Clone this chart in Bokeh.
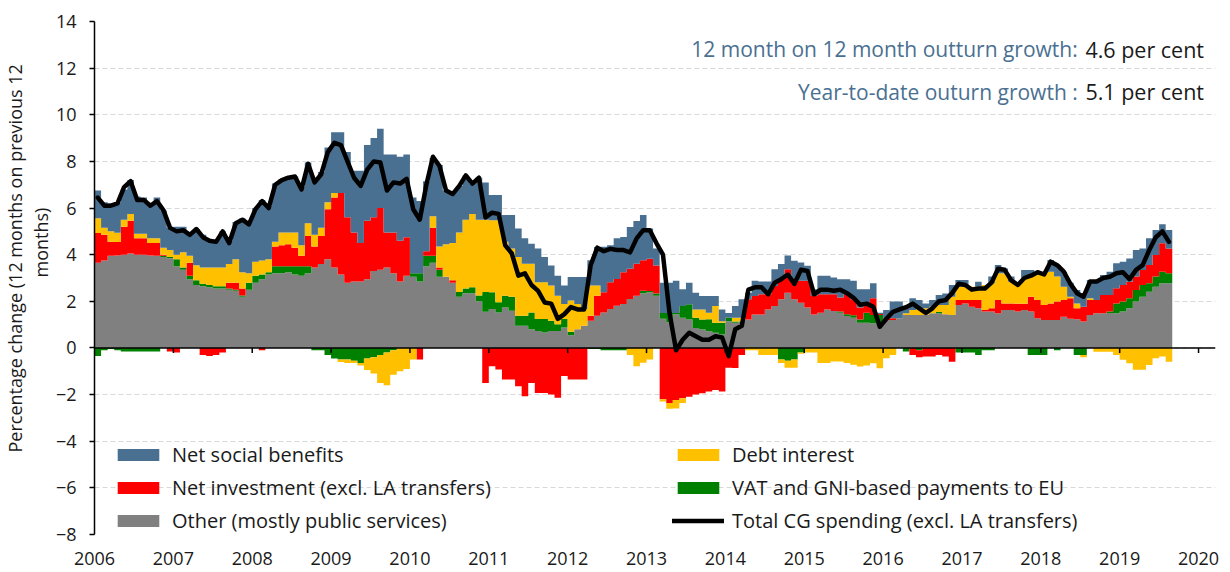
import numpy as np
from bokeh.plotting import figure
from bokeh.models import (Range1d, FixedTicker, Legend, LegendItem, Label, Span, Title)
from bokeh.embed import file_html
from bokeh.resources import INLINE

# ---------------- data (monthly, Jan 2006 - Aug 2019) ----------------
start_year = 2006
tick_years = list(range(2006, 2021))

other = [
    3.65, 3.75, 3.95, 3.97, 4.0, 4.05, 4.0, 4.0, 3.97, 3.95, 3.9, 3.85,
    3.5, 3.35, 2.95, 2.7, 2.65, 2.6, 2.55, 2.55, 2.5, 2.45, 2.2, 2.5,
    2.8, 2.95, 3.15, 3.2, 3.2, 3.25, 3.15, 3.1, 3.2, 3.45, 3.6, 3.8,
    3.45, 3.15, 2.8, 2.85, 2.85, 2.95, 3.3, 3.35, 3.45, 3.2, 2.85, 3.1,
    3.05, 2.85, 3.5, 3.65, 3.05, 3.05, 2.8, 2.2, 2.35, 2.35, 2.0, 1.55,
    1.67, 1.52, 1.74, 1.6, 0.95, 0.95, 0.8, 0.73, 0.66, 0.73, 0.73, 0.88,
    0.55, 0.8, 0.95, 1.17, 1.38, 1.52, 1.67, 1.81, 1.88, 2.1, 2.24, 2.35,
    2.39, 2.24, 1.25, 1.1, 1.45, 1.3, 1.22, 0.86, 0.79, 0.72, 0.65, 0.58,
    1.15, 1.08, 1.15, 1.22, 1.44, 1.44, 1.65, 1.8, 2.09, 2.37, 2.09, 1.94,
    1.73, 1.44, 1.51, 1.65, 1.58, 1.51, 1.37, 1.3, 1.08, 1.08, 1.06, 1.06,
    1.2, 1.2, 1.27, 1.41, 1.41, 1.41, 1.41, 1.49, 1.49, 1.45, 1.41, 1.84,
    1.91, 1.77, 1.7, 1.56, 1.56, 1.49, 1.63, 1.63, 1.56, 1.63, 1.56, 1.27,
    1.2, 1.2, 1.2, 1.34, 1.25, 1.23, 1.13, 1.41, 1.49, 1.49, 1.5, 1.49,
    1.56, 1.7, 1.99, 2.2, 2.41, 2.63, 2.77, 2.77]

vat = [
    -0.35, -0.1, -0.05, -0.1, -0.15, -0.15, -0.15, -0.15, -0.15, -0.15, 0.05, 0.05,
    0.3, 0.1, 0.15, 0.2, 0.1, 0.1, 0.1, 0.1, 0.05, 0.05, 0.05, 0.3,
    0.3, 0.2, 0.1, 0.3, 0.3, 0.25, 0.35, 0.4, 0.3, -0.1, -0.1, -0.3,
    -0.45, -0.5, -0.5, -0.55, -0.65, -0.45, -0.4, -0.3, -0.2, -0.1, 0.0, 0.0,
    0.15, 0.35, 0.45, 0.3, 0.3, 0.0, 0.0, 0.2, 0.2, 0.25, 0.25, 0.85,
    0.72, 0.44, 0.5, 0.6, 0.43, 0.43, 0.72, 0.51, 0.58, 0.44, 0.29, 0.36,
    0.15, 0.0, 0.0, -0.05, -0.05, -0.1, -0.1, -0.1, -0.1, 0.0, 0.0, 0.1,
    0.05, 0.1, 0.25, 0.4, 0.05, 0.5, 0.65, 0.44, 0.43, 0.51, 0.43, 0.5,
    0.15, 0.05, 0.0, 0.0, 0.0, 0.0, 0.0, 0.0, -0.5, -0.55, -0.5, -0.2,
    0.0, 0.0, 0.0, 0.0, 0.0, 0.05, 0.08, 0.1, 0.14, 0.43, 0.35, 0.35,
    0.0, 0.0, 0.0, -0.15, 0.0, -0.1, 0.0, 0.0, 0.05, 0.0, 0.0, -0.2,
    -0.2, -0.2, -0.3, -0.1, -0.1, 0.0, 0.0, 0.0, 0.0, 0.0, -0.3, -0.3,
    -0.3, 0.0, -0.1, 0.0, 0.0, -0.3, -0.3, 0.0, 0.0, 0.0, 0.06, 0.42,
    0.43, 0.43, 0.5, 0.5, 0.36, 0.43, 0.5, 0.43]

invest = [
    1.28, 1.1, 0.6, 0.57, 1.2, 1.4, 0.7, 0.7, 0.53, 0.55, 0.05, -0.15,
    -0.2, 0.0, 0.55, 0.0, -0.3, -0.35, -0.3, -0.2, 0.25, 0.3, 0.3, 0.0,
    0.0, -0.1, 0.0, 0.85, 0.9, 0.95, 0.8, 0.45, 1.3, 0.9, 1.2, 2.15,
    3.0, 3.5, 2.8, 2.1, 1.65, 2.5, 2.3, 2.65, 1.5, 1.75, 1.75, 1.65,
    0.0, -0.5, 0.2, 1.2, 0.1, 0.0, 0.1, 0.0, 0.0, 0.0, 0.0, -1.5,
    -0.78, -0.92, -1.35, -1.35, -1.64, -2.07, -1.5, -1.93, -1.93, -2.0, -2.14, -1.2,
    -1.35, -1.35, -1.35, 0.21, 0.86, 0.87, 1.15, 1.15, 1.37, 1.3, 1.37, 1.31,
    1.39, 1.2, -2.2, -2.36, -2.23, -2.16, -2.09, -2.0, -1.94, -1.87, -1.8, -1.87,
    -0.85, -0.86, -0.3, 0.87, 0.79, 0.86, 0.65, 0.86, 0.86, 1.01, 0.86, 0.94,
    1.15, 0.79, 0.79, 0.65, 0.72, 0.6, 0.85, 0.69, 0.51, 0.29, 0.72, 0.05,
    0.07, 0.07, 0.0, 0.0, -0.3, -0.3, -0.37, -0.37, -0.3, -0.37, -0.59, 0.22,
    0.15, 0.29, 0.36, 0.07, 0.14, 0.57, 0.28, 0.28, 0.34, 0.27, 0.64, 0.79,
    0.64, 0.71, 0.79, 0.72, 0.88, 0.47, 0.64, 0.65, 0.57, 0.78, 0.71, 0.65,
    0.71, 0.71, 0.57, 0.64, 0.79, 0.93, 1.22, 1.07]

debt = [
    0.63, 0.3, 0.45, 0.4, 0.3, 0.3, 0.2, 0.2, 0.2, 0.2, 0.3, 0.3,
    0.2, 0.65, 0.3, 0.65, 0.7, 0.75, 0.8, 0.8, 0.8, 1.0, 0.7, 0.4,
    0.6, 0.6, 0.55, 0.2, 0.55, 0.5, 0.65, 0.45, 0.55, 0.5, 0.35, 0.3,
    0.2, -0.1, -0.15, -0.1, -0.1, -0.5, -0.7, -1.2, -1.4, -1.05, -1.0, -0.9,
    -0.5, 0.0, 0.0, 0.5, 0.9, 1.4, 1.6, 2.55, 2.95, 3.15, 3.25, 3.1,
    3.09, 3.52, 2.31, 2.06, 2.52, 2.23, 2.09, 1.58, 1.58, 1.51, 1.22, 0.64,
    1.33, 1.08, 0.72, 1.3, 0.44, 0.0, 0.0, 0.0, 0.0, -0.3, -0.78, -0.63,
    -0.5, 0.0, -0.1, -0.25, -0.37, -0.2, 0.0, 0.35, 0.43, 0.28, 0.72, 0.07,
    0.0, 0.17, 0.15, -0.1, -0.1, -0.3, -0.3, -0.3, -0.15, -0.3, -0.35, -0.05,
    -0.2, -0.2, -0.65, -0.65, -0.58, -0.58, -0.65, -0.72, -0.79, -0.75, -0.66, -0.87,
    -0.44, -0.3, 0.0, 0.08, 0.22, 0.29, 0.29, 0.28, 0.3, 0.39, 0.79, 0.57,
    0.57, 0.57, 0.57, 1.07, 1.07, 1.14, 1.29, 0.93, 0.8, 1.09, 0.86, 1.07,
    1.36, 1.36, 1.07, 0.57, 0.07, 0.21, -0.1, 0.07, -0.16, -0.16, -0.16, -0.3,
    -0.51, -0.66, -0.94, -0.94, -0.73, -0.44, -0.37, -0.59]

benefits = [
    1.19, 1.1, 1.2, 1.3, 1.3, 1.45, 1.6, 1.55, 1.5, 1.75, 1.6, 0.95,
    1.2, 1.1, 0.9, 1.55, 1.4, 1.2, 1.2, 1.55, 1.0, 1.6, 2.3, 2.2,
    2.3, 2.6, 2.3, 2.5, 2.3, 2.4, 2.4, 2.5, 2.6, 2.4, 2.4, 2.35,
    2.6, 2.6, 2.8, 2.65, 3.1, 3.25, 3.4, 3.4, 3.35, 3.35, 3.6, 3.55,
    3.25, 3.1, 3.0, 2.5, 3.5, 2.3, 2.1, 2.0, 1.9, 1.3, 1.8, 1.6,
    1.08, 1.08, 1.15, 1.44, 1.22, 1.09, 0.86, 1.44, 1.08, 0.86, 0.86, 0.8,
    1.01, 1.16, 1.37, 1.08, 1.65, 1.95, 1.58, 1.74, 1.51, 1.79, 1.83, 1.94,
    1.29, 0.72, 1.3, 1.3, 1.38, 0.72, 0.93, 0.72, 0.58, 0.72, 0.43, 0.5,
    0.2, 0.5, 0.79, 0.28, 0.65, 0.55, 0.55, 0.72, 0.65, 0.58, 0.79, 0.79,
    0.65, 0.29, 0.8, 0.8, 0.72, 0.79, 0.65, 0.79, 0.79, 0.72, 0.64, 0.05,
    0.36, 0.72, 0.72, 0.21, 0.5, 0.36, 0.21, 0.29, 0.43, 0.5, 0.5, 0.28,
    0.28, 0.0, 0.21, 0.0, 0.29, 0.36, 0.21, 0.22, 0.0, 0.35, 0.28, 0.07,
    0.07, 0.5, 0.5, 0.64, 0.6, 0.58, 0.57, 0.78, 0.85, 0.86, 1.0, 1.07,
    1.0, 1.0, 1.14, 0.93, 1.14, 1.07, 0.81, 0.79]

total = [
    6.45, 6.1, 6.1, 6.2, 6.9, 7.15, 6.35, 6.35, 6.1, 6.3, 5.9, 5.15,
    5.0, 5.05, 4.85, 5.1, 4.75, 4.6, 4.55, 5.0, 4.5, 5.35, 5.5, 5.3,
    5.95, 6.3, 6.0, 7.0, 7.2, 7.3, 7.35, 6.8, 7.9, 7.1, 7.45, 8.4,
    8.8, 8.7, 8.0, 7.3, 6.95, 7.65, 8.0, 7.95, 6.75, 7.1, 7.05, 7.25,
    5.95, 5.5, 7.0, 8.2, 7.8, 6.75, 6.6, 6.95, 7.4, 7.05, 7.3, 5.6,
    5.8, 5.75, 4.4, 4.05, 3.1, 3.2, 2.7, 2.45, 1.95, 1.9, 1.25, 1.45,
    1.75, 1.65, 1.65, 3.55, 4.3, 4.15, 4.25, 4.2, 4.2, 4.1, 4.7, 5.05,
    5.05, 4.5, 4.0, 1.5, -0.1, 0.35, 0.65, 0.5, 0.35, 0.35, 0.5, 0.45,
    -0.35, 0.8, 0.95, 2.5, 2.6, 2.6, 2.3, 2.8, 2.95, 3.15, 2.75, 3.35,
    3.3, 2.3, 2.5, 2.5, 2.45, 2.5, 2.35, 2.15, 1.85, 1.9, 1.77, 0.91,
    1.25, 1.55, 1.65, 1.75, 1.9, 1.7, 1.5, 1.7, 2.0, 2.05, 2.35, 2.75,
    2.7, 2.5, 2.55, 2.55, 2.8, 3.4, 3.35, 2.9, 2.7, 3.0, 3.1, 3.25,
    3.15, 3.7, 3.55, 3.27, 2.75, 2.35, 2.2, 2.85, 2.85, 3.0, 3.05, 3.2,
    3.25, 2.95, 3.35, 3.55, 4.2, 4.75, 5.0, 4.55]

series_names = ["Other (mostly public services)", "VAT and GNI-based payments to EU",
                "Net investment (excl. LA transfers)", "Debt interest",
                "Net social benefits"]
series_values = [other, vat, invest, debt, benefits]
series_colors = ["#808080", "#008000", "#FF0000", "#FFC000", "#4A7091"]
line_name = "Total CG spending (excl. LA transfers)"

headline_1 = ("12 month on 12 month outturn growth:", "4.6 per cent")
headline_2 = ("Year-to-date outurn growth :", "5.1 per cent")
y_title_lines = ["Percentage change (12 months on previous 12", "months)"]

# ---------------- figure ----------------
FONT = "Open Sans"
TXT = "#1a1a1a"
n = len(other)
x_mid = start_year + (np.arange(n) + 0.5) / 12.0
x_edges = start_year + np.arange(n + 1) / 12.0

p = figure(width=1222, height=570, output_backend="svg", toolbar_location=None,
           x_range=Range1d(2006, 2020.215), y_range=Range1d(-8, 14),
           min_border_left=92, min_border_right=7, min_border_top=21,
           min_border_bottom=36)
p.outline_line_color = None
p.background_fill_color = "white"
p.border_fill_color = "white"

p.xgrid.visible = False
p.ygrid.grid_line_color = "#D9D9D9"
p.ygrid.grid_line_dash = "5 3"
p.ygrid.grid_line_width = 1

# stacked monthly columns (positives stack up, negatives stack down)
pos = np.zeros(n)
neg = np.zeros(n)
renderers = {}
for name, vals, col in zip(series_names, series_values, series_colors):
    v = np.array(vals, dtype=float)
    vp = np.where(v > 0, v, 0.0)
    vn = np.where(v < 0, v, 0.0)
    pos_bottom, pos_top = pos.copy(), pos + vp
    neg_top, neg_bottom = neg.copy(), neg + vn
    pos, neg = pos_top, neg_bottom
    rr = []
    for b, t in ((pos_bottom, pos_top), (neg_bottom, neg_top)):
        r = p.varea_step(x=x_edges, y1=np.append(b, b[-1]), y2=np.append(t, t[-1]),
                         step_mode="after", fill_color=col)
        rr.append(r)
    renderers[name] = rr[0]

# zero axis line with year ticks
p.add_layout(Span(location=0, dimension="width", line_color="black", line_width=1.5))
p.segment(x0=tick_years[1:], y0=[0] * (len(tick_years) - 1), x1=tick_years[1:],
          y1=[-0.22] * (len(tick_years) - 1), line_color="black", line_width=1.5)

line_r = p.line(x_mid, total, line_color="black", line_width=4.5,
                line_join="round", line_cap="round")

# axes
p.xaxis.ticker = FixedTicker(ticks=tick_years)
p.xaxis.major_label_overrides = {yr: str(yr) for yr in tick_years}
p.xaxis.axis_line_color = None
p.xaxis.major_tick_line_color = None
p.xaxis.minor_tick_line_color = None
p.xaxis.major_label_standoff = 11
p.xaxis.major_label_text_font = FONT
p.xaxis.major_label_text_font_size = "18px"
p.xaxis.major_label_text_color = TXT

p.yaxis.ticker = FixedTicker(ticks=list(range(-8, 15, 2)))
p.yaxis.axis_line_color = "black"
p.yaxis.axis_line_width = 1.5
p.yaxis.major_tick_line_color = "black"
p.yaxis.major_tick_line_width = 1.5
p.yaxis.major_tick_in = 0
p.yaxis.major_tick_out = 5
p.yaxis.minor_tick_line_color = None
p.yaxis.major_label_standoff = 13
p.yaxis.major_label_text_font = FONT
p.yaxis.major_label_text_font_size = "18px"
p.yaxis.major_label_text_color = TXT

# y-axis title: two stacked side titles (second line nearest the axis)
for txt, off in ((y_title_lines[1], 257), (y_title_lines[0], 82)):
    p.add_layout(Title(text=txt, align="left", offset=off, standoff=0,
                       text_font=FONT, text_font_size="18px",
                       text_font_style="normal", text_color=TXT), "left")

# legends (two columns)
def make_legend(names, loc):
    items = []
    for nm in names:
        r = line_r if nm == line_name else renderers[nm]
        items.append(LegendItem(label=nm, renderers=[r]))
    return Legend(items=items, location=loc, orientation="vertical",
                  background_fill_alpha=0, border_line_alpha=0, padding=0, margin=0,
                  spacing=6, glyph_width=52, glyph_height=15, label_height=20,
                  label_standoff=8, label_text_font=FONT, label_text_font_size="20px",
                  label_text_color=TXT)

p.add_layout(make_legend([series_names[4], series_names[2], series_names[0]], (18, 0)))
p.add_layout(make_legend([series_names[3], series_names[1], line_name], (578, 0)))

# headline texts
for (blue_txt, black_txt), yv in zip([headline_1, headline_2], [12.8, 10.98]):
    p.add_layout(Label(x=2018.468, y=yv, text=blue_txt, text_align="right",
                       text_baseline="middle", text_font=FONT,
                       text_font_size="21px", text_color="#4A7091"))
    p.add_layout(Label(x=2018.565, y=yv, text=black_txt, text_align="left",
                       text_baseline="middle", text_font=FONT,
                       text_font_size="21.5px", text_color=TXT))

open("out.html", "w").write(file_html(p, INLINE))
